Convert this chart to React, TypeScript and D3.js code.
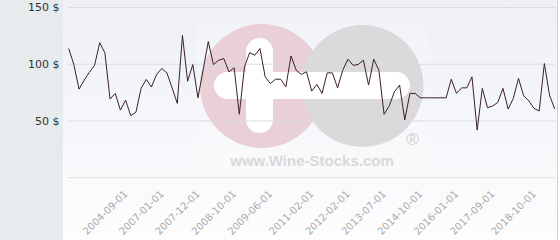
import React from "react";
import * as d3 from "d3";

const W = 560;
const H = 240;

const prices: number[] = [
  113.8, 99.7, 78, 86, 93, 99, 119, 110, 69.3, 74.3,
  59.6, 68.4, 54.7, 57.6, 78.7, 86.6, 80, 91, 96.2, 92.4,
  79.2, 65.5, 125.4, 85, 99.7, 70.4, 95, 120, 99.7, 103.5,
  105, 93.3, 96.8, 55.9, 97.7, 110.2, 107.9, 113.8, 88.9, 83,
  86.8, 86.8, 80, 107.3, 94.7, 91, 93.3, 76.3, 82.2, 74.3,
  92.4, 92.4, 79.2, 94.7, 104.4, 99.1, 99.7, 103.5, 81.6, 104.4,
  94.7, 55.9, 63.4, 75.7, 81.6, 50.9, 74.3, 74.3, 70.4, 70.4,
  70.4, 70.4, 70.4, 70.4, 86.8, 74.3, 79.2, 79.2, 88.9, 42,
  78.7, 61.7, 63.2, 66.4, 78.7, 60.5, 70, 87.5, 72.2, 67.6,
  61.1, 58.8, 100.6, 72.8, 60.5,
];

// x-axis tick labels and the observation index each one sits on
const xTickLabels: string[] = [
  "2004-09-01", "2007-01-01", "2007-12-01", "2008-10-01", "2009-06-01", "2011-02-01",
  "2012-02-01", "2013-07-01", "2014-10-01", "2016-01-01", "2017-09-01", "2018-10-01",
];
const xTickIndex: number[] = [12, 19, 26, 33, 40, 48, 55, 62, 69, 76, 83, 91];

const yTicks: number[] = [50, 100, 150];
const yGrid: number[] = [0, 50, 100, 150];

export default function App() {
  const x = d3.scaleLinear().domain([0, prices.length - 1]).range([68.7, 554.7]);
  const y = d3.scaleLinear().domain([0, 150]).range([177.7, 7.5]);
  const line = d3
    .line<number>()
    .x((_, i) => x(i))
    .y((d) => y(d));

  return (
    <svg
      width={W}
      height={H}
      style={{ position: "absolute", left: 0, top: 0, display: "block" }}
      fontFamily="DejaVu Sans, sans-serif"
    >
      <defs>
        <linearGradient id="bg" x1="0" y1="0" x2="0" y2="1">
          <stop offset="0" stopColor="#eef0f6" />
          <stop offset="1" stopColor="#fdfdfe" />
        </linearGradient>
      </defs>
      <rect x={0} y={0} width={W} height={H} fill="#ffffff" />
      <rect x={63} y={0} width={495} height={H} fill="url(#bg)" />
      <rect x={0} y={0} width={63} height={H} fill="#e7ebee" />

      {/* watermark */}
      <g>
        <rect x={197} y={18} width={230} height={156} fill="#ffffff" opacity={0.18} />
        <circle cx={262} cy={86} r={62} fill="#e9cfd6" />
        <circle cx={362.5} cy={86} r={61} fill="#dadadc" />
        <rect x={214} y={72} width={196} height={27} rx={13.5} fill="#ffffff" />
        <rect x={246} y={38} width={27} height={95} rx={13.5} fill="#ffffff" />
        <text x={412.5} y={145} fontSize={17} fill="#d0d0d2" textAnchor="middle" fontFamily="Liberation Sans, Arial, sans-serif">
          ®
        </text>
        <text x={312} y={166} fontSize={15} fontWeight="bold" fill="#d8d8da" textAnchor="middle" fontFamily="Liberation Sans, Arial, sans-serif">
          www.Wine-Stocks.com
        </text>
      </g>

      {yGrid.map((v) => (
        <line key={v} x1={68} x2={555} y1={y(v)} y2={y(v)} stroke="#dcdde0" strokeWidth={1} />
      ))}
      <line x1={557.5} x2={557.5} y1={0} y2={H} stroke="#cfd0d3" strokeWidth={1} />

      {yTicks.map((v) => (
        <text key={v} x={59.5} y={y(v)} dy="0.35em" fontSize={11} fill="#333" textAnchor="end">
          {v} $
        </text>
      ))}

      <path d={line(prices) || ""} fill="none" stroke="#3b1f2c" strokeWidth={1} strokeLinejoin="miter" />

      {xTickLabels.map((lab, i) => {
        const tx = x(xTickIndex[i]) - 5;
        const ty = 192;
        return (
          <text
            key={lab}
            x={tx}
            y={ty}
            fontSize={10}
            fill="#aaaaaa"
            textAnchor="end"
            dy="0.35em"
            transform={`rotate(-45 ${tx} ${ty})`}
          >
            {lab}
          </text>
        );
      })}
    </svg>
  );
}
